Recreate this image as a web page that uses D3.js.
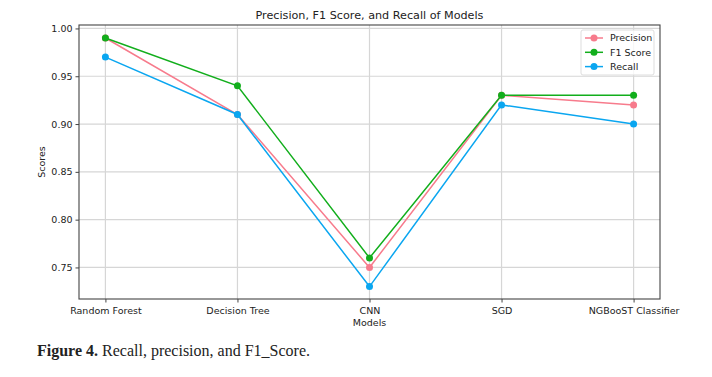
<!DOCTYPE html>
<html>
<head>
<meta charset="utf-8">
<script src="https://cdn.jsdelivr.net/npm/d3@7"></script>
<style>
  body { margin: 0; background: #fff; }
  text { font-family: "DejaVu Sans", sans-serif; fill: #222; }
</style>
</head>
<body>
<svg id="chart" width="712" height="377"></svg>
<script>
// models on the x axis
const models = ["Random Forest", "Decision Tree", "CNN", "SGD", "NGBooST Classifier"];
// scores per metric
const precision = [0.99, 0.91, 0.75, 0.93, 0.92];
const f1Score = [0.99, 0.94, 0.76, 0.93, 0.93];
const recall = [0.97, 0.91, 0.73, 0.92, 0.90];
const yTicks = [0.75, 0.80, 0.85, 0.90, 0.95, 1.00];

const series = [
    {name: "Precision", values: precision, color: "#f77b8c"},
    {name: "F1 Score", values: f1Score, color: "#12ae1c"},
    {name: "Recall", values: recall, color: "#0aa6f0"}
];

const svg = d3.select("#chart");
const margin = {left: 79, top: 25, right: 660, bottom: 299};

let x = d3.scaleLinear().domain([-0.2, 4.2]).range([margin.left, margin.right]);
let y = d3.scaleLinear().domain([0.717, 1.0036]).range([margin.bottom, margin.top]);

// grid
let grid = svg.append("g");
grid.selectAll(".gx").data(models).enter().append("line")
    .attr("x1", (d,i) => x(i)).attr("x2", (d,i) => x(i))
    .attr("y1", margin.top).attr("y2", margin.bottom)
    .attr("stroke", "#d6d6d6").attr("stroke-width", 1.2);
grid.selectAll(".gy").data(yTicks).enter().append("line")
    .attr("x1", margin.left).attr("x2", margin.right)
    .attr("y1", d => y(d)).attr("y2", d => y(d))
    .attr("stroke", "#d6d6d6").attr("stroke-width", 1.2);

// axes
let xAxis = d3.axisBottom(x).tickValues(d3.range(models.length))
    .tickFormat(i => models[i]).tickSize(3.5).tickSizeOuter(0);
let yAxis = d3.axisLeft(y).tickValues(yTicks)
    .tickFormat(d3.format(".2f")).tickSize(3.5).tickSizeOuter(0);

let gx = svg.append("g").attr("transform", `translate(0,${margin.bottom})`).call(xAxis);
let gy = svg.append("g").attr("transform", `translate(${margin.left},0)`).call(yAxis);
[gx, gy].forEach(g => {
    g.select(".domain").remove();
    g.selectAll(".tick line").attr("stroke", "#444");
    g.selectAll(".tick text").style("font-size", "9.5px").attr("fill", "#222");
});
gx.selectAll(".tick text").attr("dy", "0.9em");

// frame
svg.append("rect")
    .attr("x", margin.left).attr("y", margin.top)
    .attr("width", margin.right - margin.left).attr("height", margin.bottom - margin.top)
    .attr("fill", "none").attr("stroke", "#444").attr("stroke-width", 1.1);

// lines and markers
let line = d3.line().x((d,i) => x(i)).y(d => y(d));
series.forEach(s => {
    svg.append("path").datum(s.values)
        .attr("d", line).attr("fill", "none")
        .attr("stroke", s.color).attr("stroke-width", 1.5);
    svg.selectAll(null).data(s.values).enter().append("circle")
        .attr("cx", (d,i) => x(i)).attr("cy", d => y(d))
        .attr("r", 3.5).attr("fill", s.color);
});

// titles
svg.append("text").attr("x", (margin.left + margin.right) / 2).attr("y", 19)
    .attr("text-anchor", "middle").style("font-size", "11.2px").text("Precision, F1 Score, and Recall of Models");
svg.append("text").attr("x", (margin.left + margin.right) / 2).attr("y", 326)
    .attr("text-anchor", "middle").style("font-size", "9.5px").text("Models");
svg.append("text").attr("transform", `translate(45,${(margin.top + margin.bottom) / 2}) rotate(-90)`)
    .attr("text-anchor", "middle").style("font-size", "9.5px").text("Scores");

// legend
let legend = svg.append("g").attr("transform", "translate(581,30)");
legend.append("rect").attr("width", 73).attr("height", 45).attr("rx", 2)
    .attr("fill", "#fff").attr("fill-opacity", 0.8).attr("stroke", "#ddd");
series.forEach((s, i) => {
    let gy0 = 8 + i * 14.3;
    legend.append("line").attr("x1", 4).attr("x2", 22).attr("y1", gy0).attr("y2", gy0)
        .attr("stroke", s.color).attr("stroke-width", 1.5);
    legend.append("circle").attr("cx", 13).attr("cy", gy0).attr("r", 3.5).attr("fill", s.color);
    legend.append("text").attr("x", 29).attr("y", gy0).attr("dy", "0.35em")
        .style("font-size", "9.5px").text(s.name);
});

// caption
let cap = svg.append("text").attr("x", 37).attr("y", 356)
    .style("font-family", "'Liberation Serif', 'DejaVu Serif', serif").style("font-size", "16px");
cap.append("tspan").attr("font-weight", "bold").text("Figure 4.");
cap.append("tspan").text(" Recall, precision, and F1_Score.");
</script>
</body>
</html>
